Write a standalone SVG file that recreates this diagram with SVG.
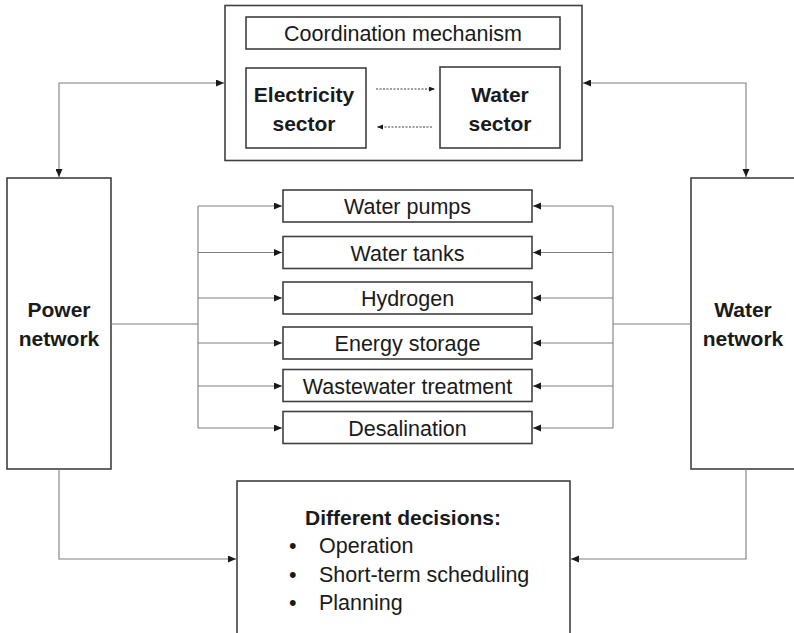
<svg xmlns="http://www.w3.org/2000/svg" width="794" height="633" viewBox="0 0 794 633">
  <style>
    .box { fill: #ffffff; stroke: #404040; stroke-width: 1.6; }
    .wire { fill: none; stroke: #7f7f7f; stroke-width: 1.1; }
    .dot { fill: none; stroke: #404040; stroke-width: 1.1; stroke-dasharray: 2 1.5; }
    text { font-family: "Liberation Sans", Arial, sans-serif; fill: #1a1a1a; }
    .reg { font-size: 21.5px; }
    .bold { font-size: 21px; font-weight: bold; }
    .mid { text-anchor: middle; }
  </style>
  <defs>
    <marker id="arrow" markerUnits="userSpaceOnUse" markerWidth="9" markerHeight="8" refX="8" refY="3.5" orient="auto">
      <path d="M0,0 L8,3.5 L0,7 z" fill="#1a1a1a"/>
    </marker>
    <marker id="arrowStart" markerUnits="userSpaceOnUse" markerWidth="9" markerHeight="8" refX="0" refY="3.5" orient="auto">
      <path d="M8,0 L0,3.5 L8,7 z" fill="#1a1a1a"/>
    </marker>
    <marker id="arrowSmall" markerUnits="userSpaceOnUse" markerWidth="7" markerHeight="6" refX="6" refY="2.5" orient="auto">
      <path d="M0,0 L6,2.5 L0,5 z" fill="#1a1a1a"/>
    </marker>
  </defs>

  <!-- coordination block -->
  <g id="coordination">
    <rect class="box" x="225" y="5.5" width="357" height="155"/>
    <rect class="box" x="246" y="17" width="314" height="32"/>
    <text class="reg mid" x="403" y="41">Coordination mechanism</text>
  </g>
  <g id="electricity-sector">
    <rect class="box" x="246" y="68" width="120" height="80"/>
    <text class="bold mid" x="304" y="102">Electricity</text>
    <text class="bold mid" x="304" y="131">sector</text>
  </g>
  <g id="water-sector">
    <rect class="box" x="440" y="67" width="120" height="81"/>
    <text class="bold mid" x="500" y="102">Water</text>
    <text class="bold mid" x="500" y="131">sector</text>
  </g>

  <!-- networks -->
  <g id="power-network">
    <rect class="box" x="7" y="178" width="104" height="291"/>
    <text class="bold mid" x="59" y="317">Power</text>
    <text class="bold mid" x="59" y="346">network</text>
  </g>
  <g id="water-network">
    <rect class="box" x="691" y="178" width="104" height="291"/>
    <text class="bold mid" x="743" y="317">Water</text>
    <text class="bold mid" x="743" y="346">network</text>
  </g>

  <!-- coupling technologies -->
  <g id="water-pumps">
    <rect class="box" x="283" y="190" width="249" height="32"/>
    <text class="reg mid" x="407.5" y="214">Water pumps</text>
  </g>
  <g id="water-tanks">
    <rect class="box" x="283" y="236.5" width="249" height="32"/>
    <text class="reg mid" x="407.5" y="260.5">Water tanks</text>
  </g>
  <g id="hydrogen">
    <rect class="box" x="283" y="282" width="249" height="32"/>
    <text class="reg mid" x="407.5" y="306">Hydrogen</text>
  </g>
  <g id="energy-storage">
    <rect class="box" x="283" y="327" width="249" height="32"/>
    <text class="reg mid" x="407.5" y="351">Energy storage</text>
  </g>
  <g id="wastewater-treatment">
    <rect class="box" x="283" y="369.5" width="249" height="32"/>
    <text class="reg mid" x="407.5" y="393.5">Wastewater treatment</text>
  </g>
  <g id="desalination">
    <rect class="box" x="283" y="411.5" width="249" height="32"/>
    <text class="reg mid" x="407.5" y="435.5">Desalination</text>
  </g>

  <!-- decisions -->
  <g id="decisions">
    <rect class="box" x="237" y="481" width="333" height="180"/>
    <text class="bold mid" x="403" y="525">Different decisions:</text>
    <text class="reg" x="289" y="553">•</text>
    <text class="reg" x="319" y="553">Operation</text>
    <text class="reg" x="289" y="581.5">•</text>
    <text class="reg" x="319" y="581.5">Short-term scheduling</text>
    <text class="reg" x="289" y="610">•</text>
    <text class="reg" x="319" y="610">Planning</text>
  </g>

  <!-- connectors, drawn over the node fills -->
  <g id="connectors">
    <!-- power network <-> coordination -->
    <path class="wire" d="M59,177 V83 H224" marker-start="url(#arrowStart)" marker-end="url(#arrow)"/>
    <!-- water network <-> coordination -->
    <path class="wire" d="M583,83 H746 V177" marker-start="url(#arrowStart)" marker-end="url(#arrow)"/>
    <!-- power network to technologies -->
    <path class="wire" d="M111,324 H198 M198,206 V428"/>
    <path class="wire" d="M198,206 H282" marker-end="url(#arrow)"/>
    <path class="wire" d="M198,252.5 H282" marker-end="url(#arrow)"/>
    <path class="wire" d="M198,298 H282" marker-end="url(#arrow)"/>
    <path class="wire" d="M198,343 H282" marker-end="url(#arrow)"/>
    <path class="wire" d="M198,386 H282" marker-end="url(#arrow)"/>
    <path class="wire" d="M198,428 H282" marker-end="url(#arrow)"/>
    <!-- water network to technologies -->
    <path class="wire" d="M691,324 H613 M613,206 V428"/>
    <path class="wire" d="M613,206 H533" marker-end="url(#arrow)"/>
    <path class="wire" d="M613,252.5 H533" marker-end="url(#arrow)"/>
    <path class="wire" d="M613,298 H533" marker-end="url(#arrow)"/>
    <path class="wire" d="M613,343 H533" marker-end="url(#arrow)"/>
    <path class="wire" d="M613,386 H533" marker-end="url(#arrow)"/>
    <path class="wire" d="M613,428 H533" marker-end="url(#arrow)"/>
    <!-- networks to decisions -->
    <path class="wire" d="M59,469 V559 H236" marker-end="url(#arrow)"/>
    <path class="wire" d="M746,469 V559 H571" marker-end="url(#arrow)"/>
    <!-- exchange between sectors -->
    <path class="dot" d="M376,89 H435" marker-end="url(#arrowSmall)"/>
    <path class="dot" d="M432,127 H377" marker-end="url(#arrowSmall)"/>
  </g>
</svg>
